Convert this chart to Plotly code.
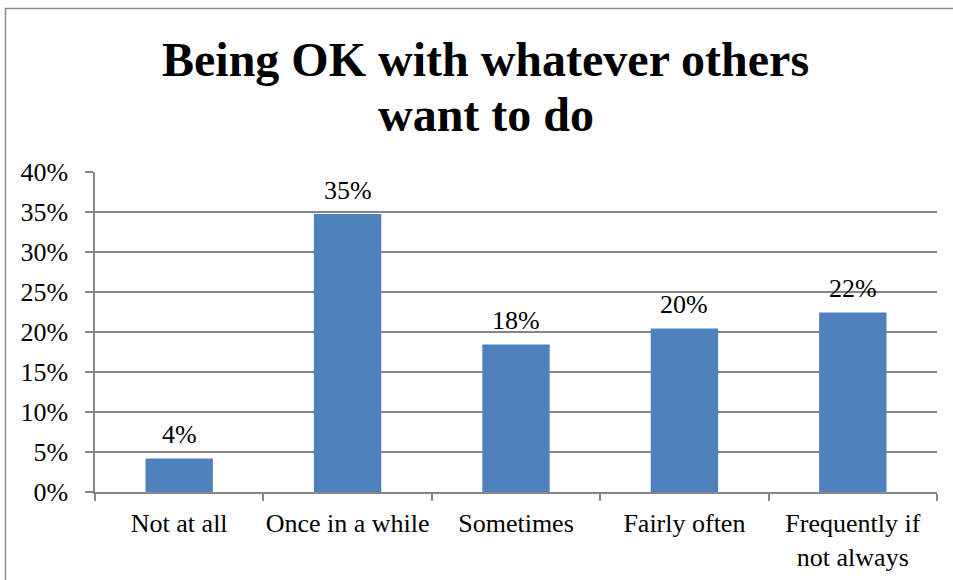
import plotly.graph_objects as go

# Survey responses: share of respondents per answer
categories = ["Not at all", "Once in a while", "Sometimes", "Fairly often", "Frequently if<br>not always"]
shares = [0.042, 0.3475, 0.1845, 0.2045, 0.2245]
y_ticks = [0, 0.05, 0.10, 0.15, 0.20, 0.25, 0.30, 0.35, 0.40]

TITLE_LINES = ["Being OK with whatever others", "want to do"]

FONT = "Liberation Serif, Times New Roman, serif"
BAR_BLUE = "#4F81BD"
GRID_GRAY = "#868686"
LABEL_SIZE = 26

W, H = 953, 580
ML, MR, MT, MB = 95, 16, 172, 88
plot_w = W - ML - MR
plot_h = H - MT - MB


def px_to_paper_x(px):
    return (px - ML) / plot_w


def px_to_paper_y(py):
    return (H - MB - py) / plot_h


fig = go.Figure()
fig.add_trace(go.Bar(
    x=categories,
    y=shares,
    marker=dict(color=BAR_BLUE, line=dict(width=0)),
    width=0.4,
    hoverinfo="skip",
))

# value labels above each bar
for cat, val in zip(categories, shares):
    fig.add_annotation(
        x=cat, y=val, xref="x", yref="y",
        text=f"{val * 100:.0f}%",
        showarrow=False, yanchor="middle", yshift=24,
        font=dict(family=FONT, size=LABEL_SIZE, color="black"),
    )

# two-line bold chart title
for line, center_px in zip(TITLE_LINES, [59, 114]):
    fig.add_annotation(
        x=px_to_paper_x(485.5), y=px_to_paper_y(center_px),
        xref="paper", yref="paper",
        xanchor="center", yanchor="middle",
        text=f"<b>{line}</b>", showarrow=False,
        font=dict(family=FONT, size=48, color="black"),
    )

# outer chart-area frame (runs off the right and bottom edges)
fig.add_shape(
    type="rect", xref="paper", yref="paper",
    x0=px_to_paper_x(5.5), x1=px_to_paper_x(980),
    y0=px_to_paper_y(620), y1=px_to_paper_y(8.5),
    line=dict(color="#8c8c8c", width=1.5), fillcolor="rgba(0,0,0,0)",
    layer="below",
)

fig.update_layout(
    width=W, height=H,
    margin=dict(l=ML, r=MR, t=MT, b=MB, pad=0, autoexpand=False),
    paper_bgcolor="white", plot_bgcolor="white",
    showlegend=False,
    bargap=0.6,
    font=dict(family=FONT, size=LABEL_SIZE, color="black"),
    xaxis=dict(
        showline=True, linecolor=GRID_GRAY, linewidth=1.5,
        ticks="outside", tickson="boundaries", ticklen=7,
        tickcolor=GRID_GRAY, tickwidth=1.5,
        ticklabelstandoff=7, tickangle=0, automargin=False,
        showgrid=False,
        tickfont=dict(family=FONT, size=LABEL_SIZE, color="black"),
    ),
    yaxis=dict(
        range=[0, 0.4],
        tickvals=y_ticks, tickformat=".0%",
        showline=True, linecolor=GRID_GRAY, linewidth=1.5,
        ticks="outside", ticklen=8, tickcolor=GRID_GRAY, tickwidth=1.5,
        ticklabelstandoff=12, automargin=False,
        showgrid=True, gridcolor=GRID_GRAY, gridwidth=1.5,
        zeroline=False,
        tickfont=dict(family=FONT, size=LABEL_SIZE, color="black"),
    ),
)

fig.write_html("out.html")
